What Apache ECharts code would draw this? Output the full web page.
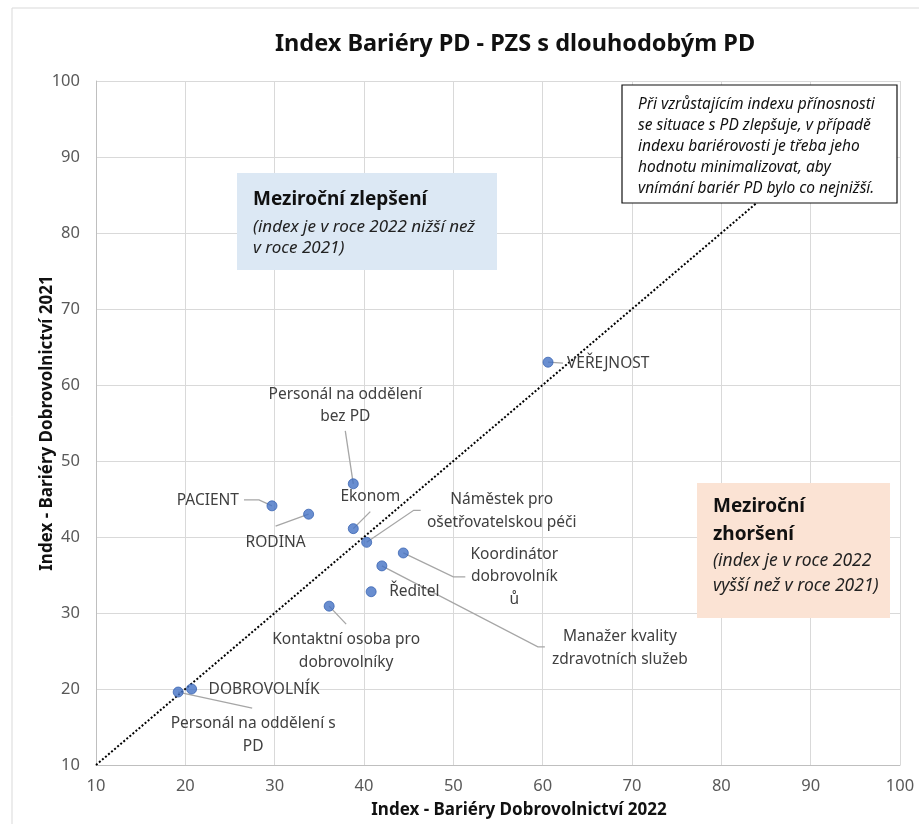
<!DOCTYPE html>
<html>
<head>
<meta charset="utf-8">
<script src="https://cdn.jsdelivr.net/npm/echarts@6/dist/echarts.min.js"></script>
<style>
html,body{margin:0;padding:0;background:#fff;}
#chart{width:919px;height:824px;}
</style>
</head>
<body>
<div id="chart"></div>
<script>
// ---- data ----
const names = ['VEŘEJNOST', 'Personál na oddělení\nbez PD', 'PACIENT', 'RODINA', 'Ekonom',
  'Náměstek pro\nošetřovatelskou péči', 'Koordinátor\ndobrovolník\nů', 'Manažer kvality\nzdravotních služeb',
  'Ředitel', 'Kontaktní osoba pro\ndobrovolníky', 'DOBROVOLNÍK', 'Personál na oddělení s\nPD'];
const index2022 = [60.6, 38.8, 29.7, 33.8, 38.8, 40.3, 44.4, 42.0, 40.8, 36.1, 20.7, 19.2];
const index2021 = [63.0, 47.0, 44.1, 43.0, 41.1, 39.3, 37.9, 36.2, 32.8, 30.9, 20.0, 19.6];
const diagonal = [10, 85];
const axisTicks = [10, 20, 30, 40, 50, 60, 70, 80, 90, 100];

// ---- label placement (pixel offsets from each point; styling only) ----
const labelPlace = [
  {dx: 19, dy: 1, align: 'left', lead: [[15, 1]]},
  {dx: -8, dy: -78, align: 'center', lead: [[-8, -53]]},
  {dx: -33, dy: -5, align: 'right', lead: [[-13, -6], [-28, -6]]},
  {dx: -33, dy: 28, align: 'center', lead: [[-33, 12]]},
  {dx: 17, dy: -32, align: 'center', lead: [[17, -17]]},
  {dx: 135, dy: -31, align: 'center', lead: [[47, -32], [54, -32]]},
  {dx: 111, dy: 24, align: 'center', lead: [[50, 24], [62, 24]]},
  {dx: 238, dy: 82, align: 'center', lead: [[156, 81], [163, 81]]},
  {dx: 18, dy: 0, align: 'left', lead: null},
  {dx: 17, dy: 45, align: 'center', lead: [[17, 18]]},
  {dx: 17, dy: 1, align: 'left', lead: null},
  {dx: 75, dy: 43, align: 'center', lead: [[74, 16]]}
];

const FONT = '"Noto Sans", "DejaVu Sans", sans-serif';
const points = index2022.map((x, i) => [x, index2021[i]]);

const chart = echarts.init(document.getElementById('chart'), null, {renderer: 'canvas'});
chart.setOption({
  animation: false,
  backgroundColor: '#fff',
  title: {
    text: 'Index Bariéry PD - PZS s dlouhodobým PD',
    left: 510, top: 27, textAlign: 'center',
    textStyle: {fontFamily: FONT, fontSize: 23.5, fontWeight: 'bold', color: '#111'}
  },
  grid: {left: 96, right: 19, top: 81, bottom: 59},
  xAxis: {
    type: 'value', min: axisTicks[0], max: axisTicks[axisTicks.length - 1], interval: 10,
    name: 'Index - Bariéry Dobrovolnictví 2022', nameLocation: 'middle', nameGap: 37, nameMoveOverlap: false,
    nameTextStyle: {fontFamily: FONT, fontSize: 17, fontWeight: 'bold', color: '#111', padding: [0, 0, 0, 42]},
    axisLine: {lineStyle: {color: '#bfbfbf'}}, axisTick: {show: false},
    axisLabel: {fontFamily: FONT, fontSize: 16.5, color: '#595959', margin: 13},
    splitLine: {lineStyle: {color: '#d9d9d9'}}
  },
  yAxis: {
    type: 'value', min: axisTicks[0], max: axisTicks[axisTicks.length - 1], interval: 10,
    name: 'Index - Bariéry Dobrovolnictví 2021', nameLocation: 'middle', nameGap: 40, nameMoveOverlap: false,
    nameTextStyle: {fontFamily: FONT, fontSize: 17, fontWeight: 'bold', color: '#111'},
    axisLine: {show: true, lineStyle: {color: '#bfbfbf'}}, axisTick: {show: false},
    axisLabel: {fontFamily: FONT, fontSize: 16.5, color: '#595959', margin: 16},
    splitLine: {lineStyle: {color: '#d9d9d9'}}
  },
  graphic: [
    {type: 'rect', z: -1, shape: {x: 12, y: 8, width: 930, height: 840}, style: {fill: 'none', stroke: '#d9d9d9', lineWidth: 1}},
    {type: 'rect', z: 10, shape: {x: 237, y: 173, width: 260, height: 97}, style: {fill: '#dce8f4'}},
    {type: 'text', z: 11, x: 253, y: 200, style: {text: 'Meziroční zlepšení', font: 'bold 19px ' + FONT, fill: '#111', textVerticalAlign: 'middle'}},
    {type: 'text', z: 11, x: 253, y: 216, style: {text: '(index je v roce 2022 nižší než\nv roce 2021)', font: 'italic 17px ' + FONT, fill: '#222', lineHeight: 21.6, textVerticalAlign: 'top'}},
    {type: 'rect', z: 10, shape: {x: 697, y: 483, width: 193, height: 135}, style: {fill: '#fbe3d4'}},
    {type: 'text', z: 11, x: 713, y: 492.5, style: {text: 'Meziroční\nzhoršení', font: 'bold 19px ' + FONT, fill: '#111', lineHeight: 28.3, textVerticalAlign: 'top'}},
    {type: 'text', z: 11, x: 713, y: 549, style: {text: '(index je v roce 2022\nvyšší než v roce 2021)', font: 'italic 17.5px ' + FONT, fill: '#222', lineHeight: 25, textVerticalAlign: 'top'}},
    {type: 'rect', z: 10, shape: {x: 622, y: 85, width: 275, height: 118}, style: {fill: '#fff', stroke: '#111', lineWidth: 1.2}},
    {type: 'text', z: 11, x: 638, y: 94.6, style: {text: 'Při vzrůstajícím indexu přínosnosti\nse situace s PD zlepšuje, v případě\nindexu bariérovosti je třeba jeho\nhodnotu minimalizovat, aby\nvnímání bariér PD bylo co nejnižší.', font: 'italic 15.5px ' + FONT, fill: '#111', lineHeight: 20.8, textVerticalAlign: 'top'}}
  ],
  series: [
    {
      type: 'line', z: 1, symbol: 'none', silent: true,
      data: [[diagonal[0], diagonal[0]], [diagonal[1], diagonal[1]]],
      lineStyle: {color: '#000', width: 2, type: [2, 2]}
    },
    {
      type: 'custom', z: 2, clip: false, silent: true,
      data: points,
      renderItem: function (params, api) {
        const i = params.dataIndex;
        const p = api.coord([api.value(0), api.value(1)]);
        const pl = labelPlace[i];
        const children = [];
        if (pl.lead) {
          const pts = [[p[0], p[1]]].concat(pl.lead.map(o => [p[0] + o[0], p[1] + o[1]]));
          children.push({type: 'polyline', shape: {points: pts}, style: {stroke: '#a6a6a6', lineWidth: 1.3, fill: null}});
        }
        children.push({
          type: 'text', x: p[0] + pl.dx, y: p[1] + pl.dy,
          style: {text: names[i], font: '15.5px ' + FONT, fill: '#404040', textAlign: pl.align, textVerticalAlign: 'middle', lineHeight: 22.5}
        });
        return {type: 'group', children: children};
      }
    },
    {
      type: 'scatter', z: 3, symbolSize: 10,
      data: points,
      itemStyle: {color: '#4472c4', borderColor: '#3b65b3', borderWidth: 1}
    }
  ]
});
</script>
</body>
</html>
